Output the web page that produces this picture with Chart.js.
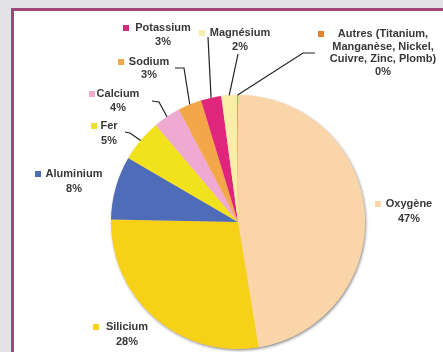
<!DOCTYPE html>
<html>
<head>
<meta charset="utf-8">
<script src="https://cdn.jsdelivr.net/npm/chart.js@4/dist/chart.umd.min.js"></script>
<style>
  html, body { margin: 0; padding: 0; }
  body { width: 443px; height: 352px; background: #e3e3e5; position: relative; overflow: hidden; }
  #panel { position: absolute; left: 11px; top: 8px; width: 460px; height: 380px; background: #fff; border: 3px solid #a4457a; }
  #c { position: absolute; left: 0; top: 0; }
</style>
</head>
<body>
<div id="panel"></div>
<canvas id="c" width="443" height="352"></canvas>
<script>
// composition de la croûte terrestre (%)
const elements = ['Oxygène', 'Silicium', 'Aluminium', 'Fer', 'Calcium', 'Sodium', 'Potassium', 'Magnésium', 'Autres'];
const labelLines = [
    ['Oxygène'], ['Silicium'], ['Aluminium'], ['Fer'], ['Calcium'], ['Sodium'], ['Potassium'], ['Magnésium'],
    ['Autres (Titanium,', 'Manganèse, Nickel,', 'Cuivre, Zinc, Plomb)']
];
const values = [47.4, 27.9, 8.1, 5.4, 3.5, 3.0, 2.6, 2.0, 0.1];
const colors = ['#fad5aa', '#f7d117', '#4f6cb8', '#f1e21e', '#eeaad0', '#f4a748', '#e0267c', '#f8eeaa', '#e8812e'];

// placement des étiquettes (centre du texte, ligne 1, carré, coude du trait)
const labelPos = [
    { cx: 409, y: 204, sq: 375, lh: 15, leader: null },
    { cx: 127, y: 327, sq: 93, lh: 15, leader: null },
    { cx: 74, y: 174, sq: 35, lh: 15, leader: null },
    { cx: 109, y: 126, sq: 91, lh: 15, leader: [[125, 132], [130, 133]] },
    { cx: 118, y: 94, sq: 89, lh: 14, leader: [[152, 101], [159, 102]] },
    { cx: 149, y: 62, sq: 118, lh: 13, leader: [[175, 68], [184, 68]] },
    { cx: 163, y: 28, sq: 123, lh: 14, leader: [[208, 37]] },
    { cx: 240, y: 33, sq: 199, lh: 14, leader: [[238, 54]] },
    { cx: 383, y: 34, sq: 318, lh: 12.7, leader: [[315, 53], [303, 53]] }
];

const total = values.reduce((a, b) => a + b, 0);

const pieShadow = {
    id: 'pieShadow',
    beforeDatasetsDraw(chart) {
        const arc = chart.getDatasetMeta(0).data[0];
        const ctx = chart.ctx;
        ctx.save();
        ctx.beginPath();
        ctx.arc(arc.x, arc.y, arc.outerRadius, 0, Math.PI * 2);
        ctx.shadowColor = 'rgba(0,0,0,0.45)';
        ctx.shadowBlur = 3;
        ctx.shadowOffsetX = 1;
        ctx.shadowOffsetY = 1.5;
        ctx.fillStyle = colors[0];
        ctx.fill();
        ctx.restore();
    }
};

const outsideLabels = {
    id: 'outsideLabels',
    afterDatasetsDraw(chart) {
        const ctx = chart.ctx;
        const meta = chart.getDatasetMeta(0);
        ctx.save();
        ctx.font = 'bold 11px "Liberation Sans", Arial, sans-serif';
        ctx.textBaseline = 'middle';
        ctx.textAlign = 'center';
        meta.data.forEach((el, i) => {
            const p = labelPos[i];
            // trait de rappel
            if (p.leader) {
                const mid = (el.startAngle + el.endAngle) / 2;
                const ex = el.x + Math.cos(mid) * el.outerRadius;
                const ey = el.y + Math.sin(mid) * el.outerRadius;
                ctx.beginPath();
                ctx.moveTo(p.leader[0][0], p.leader[0][1]);
                for (let k = 1; k < p.leader.length; k++) ctx.lineTo(p.leader[k][0], p.leader[k][1]);
                ctx.lineTo(ex, ey);
                ctx.strokeStyle = '#222';
                ctx.lineWidth = 1.2;
                ctx.stroke();
            }
            ctx.fillStyle = colors[i];
            ctx.fillRect(p.sq, p.y - 3, 6, 6);
            ctx.fillStyle = '#383838';
            const lines = labelLines[i].concat([Math.round(values[i] / total * 100) + '%']);
            lines.forEach((t, k) => ctx.fillText(t, p.cx, p.y + k * p.lh));
        });
        ctx.restore();
    }
};

new Chart(document.getElementById('c'), {
    type: 'pie',
    data: {
        labels: elements,
        datasets: [{
            data: values,
            backgroundColor: colors,
            borderWidth: 0
        }]
    },
    options: {
        responsive: false,
        animation: false,
        devicePixelRatio: 1,
        layout: { padding: { left: 111, right: 78, top: 95, bottom: 3 } },
        plugins: { legend: { display: false }, tooltip: { enabled: false } }
    },
    plugins: [pieShadow, outsideLabels]
});
</script>
</body>
</html>
